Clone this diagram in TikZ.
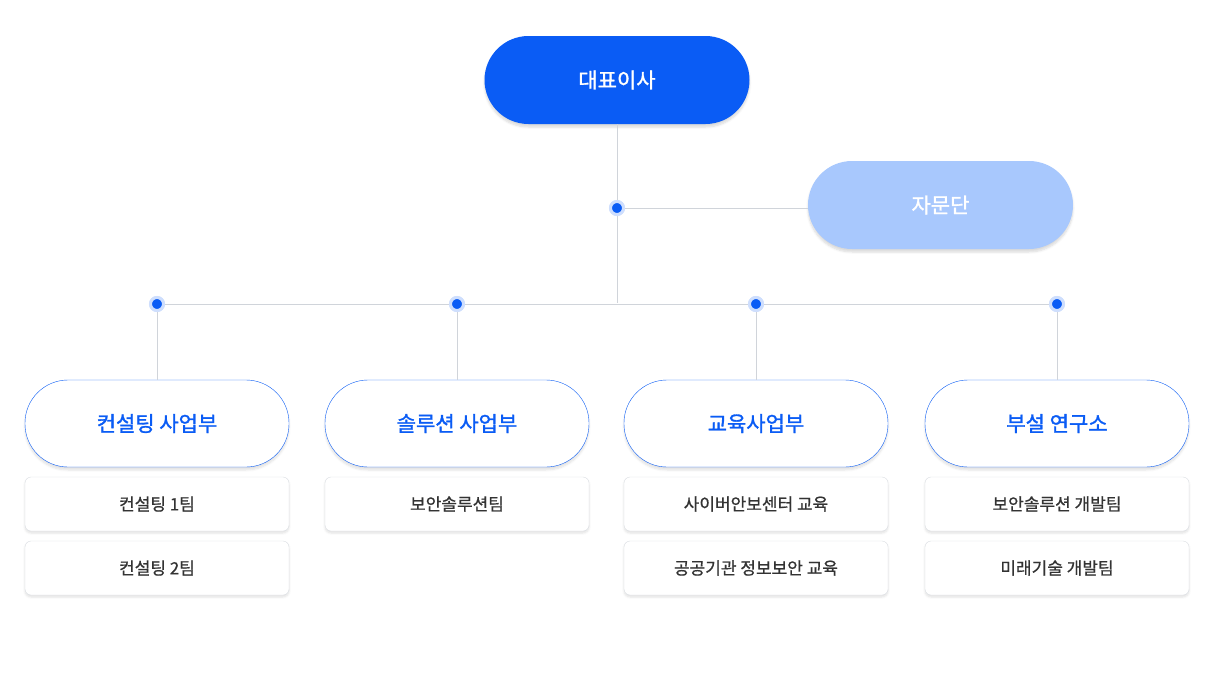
\documentclass[tikz,border=0pt]{standalone}
\usepackage{fontspec}
\setmainfont{Noto Sans CJK KR}
\newfontfamily\medf[FakeBold=1.4]{Noto Sans CJK KR}
\newfontfamily\subf[FakeBold=0.8]{Noto Sans CJK KR}
\usetikzlibrary{shadows.blur}
\definecolor{mainblue}{HTML}{0A5CF5}
\definecolor{lightblue}{HTML}{A8C8FD}
\definecolor{linegray}{HTML}{D0D4DA}
\definecolor{boxgray}{HTML}{DADDE2}
\definecolor{txt}{HTML}{333333}
\tikzset{x=1pt,y=-1pt,
 top/.style={rounded corners=44pt,minimum width=265pt,minimum height=88pt,font=\medf\fontsize{21}{24}\selectfont,text=white,blur shadow={shadow blur steps=6,shadow xshift=0pt,shadow yshift=-3pt,shadow opacity=15}},
 div/.style={draw=mainblue,fill=white,rounded corners=43pt,minimum width=264pt,minimum height=87pt,font=\medf\fontsize{21}{24}\selectfont,text=mainblue,blur shadow={shadow blur steps=6,shadow xshift=0pt,shadow yshift=-3pt,shadow opacity=12}},
 sub/.style={draw=boxgray,fill=white,rounded corners=6pt,minimum width=264pt,minimum height=54pt,font=\subf\fontsize{17}{20}\selectfont,text=txt,blur shadow={shadow blur steps=6,shadow xshift=0pt,shadow yshift=-2pt,shadow opacity=12}},
 dot/.style={circle,fill=mainblue,inner sep=0pt,minimum size=13pt,draw=mainblue!20,line width=3pt},
 ln/.style={draw=linegray,line width=0.8pt}}
\begin{document}
\begin{tikzpicture}
\useasboundingbox (0,0) rectangle (1216,686);
\node[top,fill=mainblue] (ceo) at (617,80) {대표이사};
\node[top,fill=lightblue] (adv) at (940.5,205) {자문단};
\coordinate (j) at (617,303);
\node[dot] (d0) at (617,208) {};
\path[ln] (ceo.south) -- (ceo.south |- j);
\path[ln] (d0) -- (d0 -| adv.west);
\foreach \n/\x/\t in {a/157/컨설팅 사업부,b/457/솔루션 사업부,c/756/교육사업부,d/1057/부설 연구소}{
  \node[div] (\n) at (\x,423.5) {\t};
  \node[dot] (p\n) at (\x,304) {};
  \path[ln] (p\n) -- (\n.north);
}
\path[ln] (pa) -- (pb) -- (pc) -- (pd);
\foreach \p in {pa,pb,pc,pd,d0} \node[dot] at (\p) {};
\node[sub] (a1) at (157,504) {컨설팅 1팀};
\node[sub] (a2) at (157,568) {컨설팅 2팀};
\node[sub] (b1) at (457,504) {보안솔루션팀};
\node[sub] (c1) at (756,504) {사이버안보센터 교육};
\node[sub] (c2) at (756,568) {공공기관 정보보안 교육};
\node[sub] (d1) at (1057,504) {보안솔루션 개발팀};
\node[sub] (d2) at (1057,568) {미래기술 개발팀};
\end{tikzpicture}
\end{document}
